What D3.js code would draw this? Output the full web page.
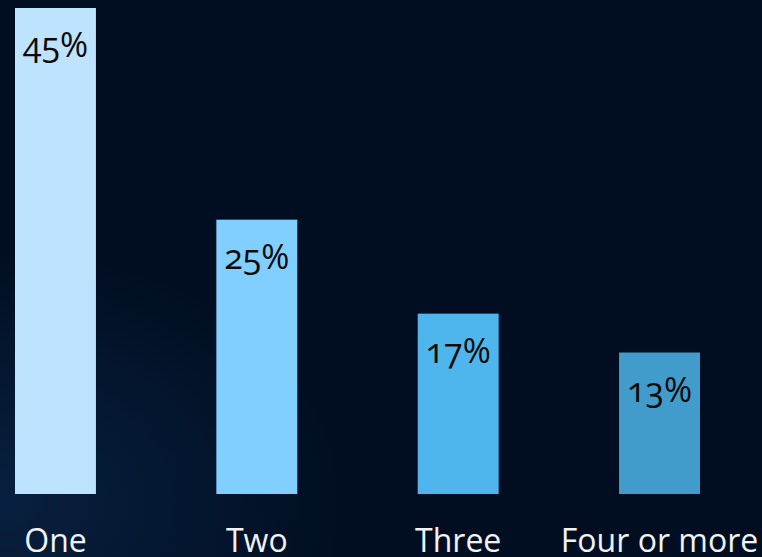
<!doctype html>
<html>
<head>
	<meta charset="utf-8">
	<title></title>
	<style>
		html, body { margin: 0; padding: 0; background: #010e22; }
		svg { display: block; }
		.value-label {
			font-family: "Open Sans", "Noto Sans", sans-serif;
			font-size: 34px;
			fill: #0b0b0b;
			font-variant-numeric: oldstyle-nums;
			text-anchor: middle;
		}
		.cat-label {
			font-family: "Open Sans", "Noto Sans", sans-serif;
			font-size: 32px;
			fill: #f2f2f2;
			text-anchor: middle;
		}
	</style>
</head>
<body>

	<svg width="762" height="557"></svg>

	<script src="https://d3js.org/d3.v7.min.js"></script>
	<script>

		const categories = [ "One", "Two", "Three", "Four or more" ];
		const values = [ 45, 25.4, 16.7, 13.1 ];
		const labels = [ "45%", "25%", "17%", "13%" ];
		const colors = [ "#bde3ff", "#80cfff", "#4fb6ed", "#419bcb" ];

		const svg = d3.select( "svg" );
		const width = +svg.attr( "width" ),
			height = +svg.attr( "height" );

		// background, a faint glow on the lower left
		const defs = svg.append( "defs" );
		const grad = defs.append( "radialGradient" )
			.attr( "id", "bg" )
			.attr( "cx", "0%" ).attr( "cy", "90%" ).attr( "r", "45%" );
		grad.append( "stop" ).attr( "offset", "0%" ).attr( "stop-color", "#08203f" );
		grad.append( "stop" ).attr( "offset", "100%" ).attr( "stop-color", "#010e22" );

		svg.append( "rect" )
			.attr( "width", width )
			.attr( "height", height )
			.attr( "fill", "url(#bg)" );

		const baseline = 494;

		const x = d3.scaleBand()
			.domain( categories )
			.range( [ 15, 700 ] )
			.paddingInner( 0.598 )
			.paddingOuter( 0 );

		const y = d3.scaleLinear()
			.domain( [ 0, 45 ] )
			.range( [ baseline, 8 ] );

		const data = categories.map( ( c, i ) => ( { cat: c, value: values[ i ], label: labels[ i ], color: colors[ i ] } ) );

		const bar = svg.selectAll( ".bar" )
			.data( data )
			.enter().append( "g" )
				.attr( "class", "bar" );

		bar.append( "rect" )
			.attr( "x", d => x( d.cat ) )
			.attr( "y", d => y( d.value ) )
			.attr( "width", x.bandwidth() )
			.attr( "height", d => baseline - y( d.value ) )
			.attr( "fill", d => d.color );

		// value labels inside bars
		bar.append( "text" )
			.attr( "class", "value-label" )
			.attr( "x", d => x( d.cat ) + x.bandwidth() / 2 )
			.attr( "y", d => y( d.value ) + 49 )
			.text( d => d.label );

		// category axis, no line or ticks
		const axis = svg.append( "g" )
			.attr( "transform", "translate(0," + baseline + ")" )
			.call( d3.axisBottom( x ).tickSize( 0 ).tickPadding( 0 ) );

		axis.select( ".domain" ).remove();
		axis.selectAll( "text" )
			.attr( "class", "cat-label" )
			.attr( "dy", null )
			.attr( "y", 58 )
			.attr( "fill", null );
		axis.attr( "font-size", null ).attr( "font-family", null );

	</script>

</body>
</html>
